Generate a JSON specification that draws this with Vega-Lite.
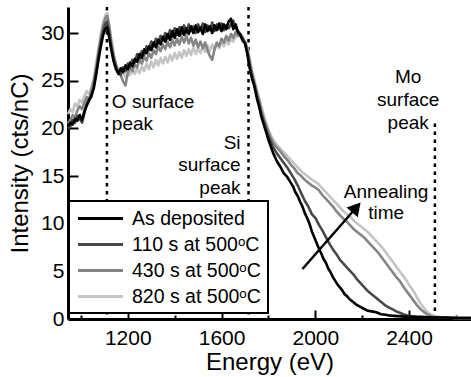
{
  "$schema": "https://vega.github.io/schema/vega-lite/v6.json",
  "width": 403,
  "height": 312,
  "autosize": {"type": "none"},
  "padding": {"left": 68, "top": 7, "right": 0, "bottom": 58},
  "background": "white",
  "config": {
    "view": {"stroke": null},
    "font": "Liberation Sans",
    "axis": {
      "domainColor": "black", "domainWidth": 3, "tickColor": "black", "tickWidth": 2,
      "labelColor": "black", "titleColor": "black", "labelFont": "Liberation Sans", "titleFont": "Liberation Sans",
      "labelFontSize": 21, "titleFontSize": 24, "titleFontWeight": "normal", "grid": false, "labelOverlap": false
    },
    "legend": {"strokeWidth": 2}
  },
  "datasets": {
    "A": [
      {"e":945,"v":20.2},{"e":955,"v":20.6},{"e":965,"v":20.4},{"e":975,"v":21.0},{"e":985,"v":20.8},{"e":995,"v":21.4},{"e":1005,"v":20.9},{"e":1015,"v":21.8},{"e":1025,"v":22.4},{"e":1035,"v":22.9},{"e":1045,"v":23.5},{"e":1055,"v":24.2},{"e":1065,"v":25.6},{"e":1075,"v":27.2},{"e":1085,"v":28.6},{"e":1095,"v":29.8},{"e":1105,"v":30.5},{"e":1112,"v":30.6},{"e":1120,"v":29.6},{"e":1130,"v":28.2},{"e":1140,"v":27.0},{"e":1150,"v":26.2},{"e":1160,"v":25.7},{"e":1170,"v":26.3},{"e":1180,"v":25.9},{"e":1190,"v":26.6},{"e":1200,"v":26.2},{"e":1210,"v":26.9},{"e":1220,"v":26.5},{"e":1230,"v":27.3},{"e":1240,"v":27.0},{"e":1250,"v":27.8},{"e":1260,"v":27.4},{"e":1270,"v":28.3},{"e":1280,"v":27.9},{"e":1290,"v":28.6},{"e":1300,"v":28.2},{"e":1310,"v":29.0},{"e":1320,"v":28.5},{"e":1330,"v":29.3},{"e":1340,"v":28.8},{"e":1350,"v":29.6},{"e":1360,"v":29.1},{"e":1370,"v":29.9},{"e":1380,"v":29.3},{"e":1390,"v":30.2},{"e":1400,"v":29.5},{"e":1410,"v":30.4},{"e":1420,"v":29.7},{"e":1430,"v":30.6},{"e":1440,"v":29.8},{"e":1450,"v":30.5},{"e":1460,"v":29.9},{"e":1470,"v":30.7},{"e":1480,"v":30.0},{"e":1490,"v":30.8},{"e":1500,"v":30.1},{"e":1510,"v":30.6},{"e":1520,"v":29.9},{"e":1530,"v":30.9},{"e":1540,"v":30.2},{"e":1550,"v":30.7},{"e":1560,"v":30.0},{"e":1570,"v":30.8},{"e":1580,"v":30.3},{"e":1590,"v":31.0},{"e":1600,"v":30.2},{"e":1610,"v":30.9},{"e":1620,"v":30.4},{"e":1630,"v":31.2},{"e":1640,"v":31.5},{"e":1650,"v":30.4},{"e":1660,"v":30.9},{"e":1670,"v":30.1},{"e":1680,"v":29.8},{"e":1690,"v":29.2},{"e":1700,"v":28.9},{"e":1710,"v":27.8},{"e":1720,"v":26.3},{"e":1730,"v":25.2},{"e":1740,"v":24.4},{"e":1750,"v":23.2},{"e":1760,"v":22.3},{"e":1770,"v":21.2},{"e":1780,"v":20.4},{"e":1790,"v":19.6},{"e":1800,"v":18.8},{"e":1810,"v":18.1},{"e":1820,"v":17.4},{"e":1835,"v":16.6},{"e":1850,"v":16.0},{"e":1865,"v":15.3},{"e":1880,"v":14.9},{"e":1895,"v":14.3},{"e":1905,"v":13.9},{"e":1915,"v":13.3},{"e":1925,"v":12.9},{"e":1935,"v":12.3},{"e":1945,"v":11.8},{"e":1955,"v":11.1},{"e":1965,"v":10.6},{"e":1975,"v":10.0},{"e":1985,"v":9.2},{"e":1995,"v":8.6},{"e":2005,"v":8.0},{"e":2015,"v":7.4},{"e":2025,"v":6.9},{"e":2035,"v":6.3},{"e":2045,"v":5.9},{"e":2055,"v":5.3},{"e":2065,"v":4.9},{"e":2075,"v":4.4},{"e":2085,"v":4.0},{"e":2095,"v":3.6},{"e":2105,"v":3.3},{"e":2115,"v":3.0},{"e":2125,"v":2.6},{"e":2135,"v":2.4},{"e":2145,"v":2.1},{"e":2160,"v":1.8},{"e":2175,"v":1.5},{"e":2190,"v":1.3},{"e":2205,"v":1.1},{"e":2220,"v":0.9},{"e":2240,"v":0.8},{"e":2260,"v":0.7},{"e":2280,"v":0.5},{"e":2300,"v":0.45},{"e":2320,"v":0.35},{"e":2350,"v":0.3},{"e":2380,"v":0.25},{"e":2420,"v":0.2},{"e":2460,"v":0.2},{"e":2500,"v":0.15},{"e":2550,"v":0.15},{"e":2600,"v":0.1},{"e":2664,"v":0.1}
    ],
    "B": [
      {"e":945,"v":20.0},{"e":955,"v":20.2},{"e":965,"v":20.9},{"e":975,"v":20.6},{"e":985,"v":21.3},{"e":995,"v":21.0},{"e":1005,"v":20.6},{"e":1015,"v":21.6},{"e":1025,"v":22.6},{"e":1035,"v":23.1},{"e":1045,"v":23.3},{"e":1055,"v":24.5},{"e":1065,"v":25.9},{"e":1075,"v":27.5},{"e":1085,"v":29.0},{"e":1095,"v":30.3},{"e":1105,"v":31.0},{"e":1112,"v":31.2},{"e":1120,"v":30.1},{"e":1130,"v":28.5},{"e":1140,"v":27.2},{"e":1150,"v":26.4},{"e":1160,"v":25.8},{"e":1170,"v":25.6},{"e":1180,"v":26.4},{"e":1190,"v":26.0},{"e":1200,"v":26.8},{"e":1210,"v":26.4},{"e":1220,"v":27.2},{"e":1230,"v":26.9},{"e":1240,"v":27.8},{"e":1250,"v":27.3},{"e":1260,"v":28.1},{"e":1270,"v":27.7},{"e":1280,"v":28.6},{"e":1290,"v":28.2},{"e":1300,"v":29.1},{"e":1310,"v":28.6},{"e":1320,"v":29.4},{"e":1330,"v":28.9},{"e":1340,"v":29.7},{"e":1350,"v":29.2},{"e":1360,"v":30.0},{"e":1370,"v":29.4},{"e":1380,"v":30.3},{"e":1390,"v":29.6},{"e":1400,"v":30.5},{"e":1410,"v":29.8},{"e":1420,"v":30.6},{"e":1430,"v":29.9},{"e":1440,"v":30.8},{"e":1450,"v":30.0},{"e":1460,"v":30.9},{"e":1470,"v":30.2},{"e":1480,"v":30.7},{"e":1490,"v":30.0},{"e":1500,"v":30.9},{"e":1510,"v":30.3},{"e":1520,"v":31.0},{"e":1530,"v":30.1},{"e":1540,"v":30.8},{"e":1550,"v":30.3},{"e":1560,"v":31.1},{"e":1570,"v":30.2},{"e":1580,"v":30.9},{"e":1590,"v":30.4},{"e":1600,"v":31.0},{"e":1610,"v":30.3},{"e":1620,"v":30.8},{"e":1630,"v":30.5},{"e":1640,"v":30.9},{"e":1650,"v":31.3},{"e":1660,"v":30.5},{"e":1670,"v":30.2},{"e":1680,"v":29.9},{"e":1690,"v":29.4},{"e":1700,"v":29.0},{"e":1710,"v":28.0},{"e":1720,"v":26.6},{"e":1730,"v":25.5},{"e":1740,"v":24.6},{"e":1750,"v":23.5},{"e":1760,"v":22.6},{"e":1770,"v":21.5},{"e":1780,"v":20.7},{"e":1790,"v":19.9},{"e":1800,"v":19.2},{"e":1810,"v":18.6},{"e":1820,"v":18.0},{"e":1835,"v":17.4},{"e":1850,"v":16.9},{"e":1865,"v":16.4},{"e":1880,"v":15.9},{"e":1895,"v":15.3},{"e":1910,"v":14.7},{"e":1925,"v":14.0},{"e":1940,"v":13.2},{"e":1955,"v":12.4},{"e":1970,"v":11.8},{"e":1985,"v":11.0},{"e":2000,"v":10.6},{"e":2015,"v":9.9},{"e":2030,"v":9.3},{"e":2045,"v":8.6},{"e":2060,"v":7.9},{"e":2075,"v":7.3},{"e":2090,"v":6.8},{"e":2105,"v":6.2},{"e":2120,"v":5.8},{"e":2135,"v":5.4},{"e":2150,"v":5.0},{"e":2165,"v":4.6},{"e":2180,"v":4.1},{"e":2195,"v":3.7},{"e":2210,"v":3.3},{"e":2225,"v":2.9},{"e":2240,"v":2.6},{"e":2255,"v":2.3},{"e":2270,"v":2.0},{"e":2285,"v":1.7},{"e":2300,"v":1.4},{"e":2315,"v":1.2},{"e":2330,"v":1.0},{"e":2345,"v":0.8},{"e":2360,"v":0.65},{"e":2375,"v":0.5},{"e":2390,"v":0.4},{"e":2410,"v":0.3},{"e":2430,"v":0.25},{"e":2460,"v":0.2},{"e":2500,"v":0.15},{"e":2550,"v":0.15},{"e":2600,"v":0.1},{"e":2664,"v":0.1}
    ],
    "C": [
      {"e":945,"v":20.5},{"e":955,"v":20.9},{"e":965,"v":21.4},{"e":975,"v":21.1},{"e":985,"v":21.9},{"e":995,"v":22.3},{"e":1005,"v":22.0},{"e":1015,"v":22.7},{"e":1025,"v":23.3},{"e":1035,"v":23.0},{"e":1045,"v":24.0},{"e":1055,"v":24.9},{"e":1065,"v":26.4},{"e":1075,"v":28.0},{"e":1085,"v":29.5},{"e":1095,"v":30.8},{"e":1105,"v":31.6},{"e":1112,"v":31.8},{"e":1120,"v":30.8},{"e":1130,"v":29.0},{"e":1140,"v":27.6},{"e":1150,"v":26.6},{"e":1160,"v":26.0},{"e":1170,"v":25.6},{"e":1180,"v":24.9},{"e":1190,"v":24.5},{"e":1200,"v":25.8},{"e":1210,"v":26.3},{"e":1220,"v":26.0},{"e":1230,"v":26.7},{"e":1240,"v":26.4},{"e":1250,"v":27.2},{"e":1260,"v":26.8},{"e":1270,"v":27.5},{"e":1280,"v":27.1},{"e":1290,"v":27.9},{"e":1300,"v":27.4},{"e":1310,"v":28.2},{"e":1320,"v":27.8},{"e":1330,"v":28.6},{"e":1340,"v":28.1},{"e":1350,"v":28.8},{"e":1360,"v":28.3},{"e":1370,"v":29.1},{"e":1380,"v":28.5},{"e":1390,"v":29.3},{"e":1400,"v":28.7},{"e":1410,"v":29.4},{"e":1420,"v":28.8},{"e":1430,"v":29.6},{"e":1440,"v":29.0},{"e":1450,"v":29.7},{"e":1460,"v":28.9},{"e":1470,"v":29.5},{"e":1480,"v":28.7},{"e":1490,"v":29.3},{"e":1500,"v":28.5},{"e":1510,"v":29.1},{"e":1520,"v":28.4},{"e":1530,"v":29.0},{"e":1540,"v":28.2},{"e":1550,"v":27.6},{"e":1560,"v":27.2},{"e":1570,"v":28.3},{"e":1580,"v":29.0},{"e":1590,"v":28.6},{"e":1600,"v":29.4},{"e":1610,"v":29.0},{"e":1620,"v":29.7},{"e":1630,"v":29.2},{"e":1640,"v":29.9},{"e":1650,"v":29.5},{"e":1660,"v":30.1},{"e":1670,"v":29.7},{"e":1680,"v":29.9},{"e":1690,"v":29.5},{"e":1700,"v":29.0},{"e":1710,"v":28.3},{"e":1720,"v":27.0},{"e":1730,"v":25.8},{"e":1740,"v":24.8},{"e":1750,"v":23.8},{"e":1760,"v":22.9},{"e":1770,"v":21.9},{"e":1780,"v":21.0},{"e":1790,"v":20.3},{"e":1800,"v":19.6},{"e":1810,"v":19.0},{"e":1820,"v":18.5},{"e":1835,"v":18.0},{"e":1850,"v":17.6},{"e":1865,"v":17.1},{"e":1880,"v":16.7},{"e":1895,"v":16.2},{"e":1910,"v":15.8},{"e":1925,"v":15.3},{"e":1940,"v":15.0},{"e":1955,"v":14.6},{"e":1970,"v":14.3},{"e":1985,"v":14.0},{"e":2000,"v":13.8},{"e":2015,"v":13.5},{"e":2030,"v":13.0},{"e":2045,"v":12.6},{"e":2060,"v":12.2},{"e":2075,"v":11.8},{"e":2090,"v":11.3},{"e":2105,"v":10.9},{"e":2120,"v":10.5},{"e":2135,"v":10.2},{"e":2150,"v":9.8},{"e":2165,"v":9.4},{"e":2180,"v":9.1},{"e":2195,"v":8.8},{"e":2210,"v":8.5},{"e":2225,"v":8.1},{"e":2240,"v":7.7},{"e":2255,"v":7.3},{"e":2270,"v":6.9},{"e":2285,"v":6.4},{"e":2300,"v":5.9},{"e":2315,"v":5.4},{"e":2330,"v":4.9},{"e":2345,"v":4.4},{"e":2360,"v":4.0},{"e":2375,"v":3.4},{"e":2390,"v":2.9},{"e":2405,"v":2.4},{"e":2420,"v":1.9},{"e":2435,"v":1.4},{"e":2450,"v":1.0},{"e":2465,"v":0.7},{"e":2480,"v":0.45},{"e":2495,"v":0.3},{"e":2510,"v":0.2},{"e":2550,"v":0.15},{"e":2600,"v":0.1},{"e":2664,"v":0.1}
    ],
    "D": [
      {"e":945,"v":21.5},{"e":955,"v":22.0},{"e":965,"v":21.7},{"e":975,"v":22.6},{"e":985,"v":22.3},{"e":995,"v":23.0},{"e":1005,"v":22.7},{"e":1015,"v":23.4},{"e":1025,"v":23.9},{"e":1035,"v":23.6},{"e":1045,"v":24.4},{"e":1055,"v":25.3},{"e":1065,"v":26.8},{"e":1075,"v":28.4},{"e":1085,"v":29.9},{"e":1095,"v":31.1},{"e":1105,"v":31.9},{"e":1112,"v":32.1},{"e":1120,"v":31.0},{"e":1130,"v":29.3},{"e":1140,"v":27.8},{"e":1150,"v":26.8},{"e":1160,"v":26.1},{"e":1170,"v":25.7},{"e":1180,"v":25.9},{"e":1190,"v":25.4},{"e":1200,"v":26.0},{"e":1210,"v":25.6},{"e":1220,"v":26.1},{"e":1230,"v":25.7},{"e":1240,"v":26.3},{"e":1250,"v":25.8},{"e":1260,"v":26.5},{"e":1270,"v":26.0},{"e":1280,"v":26.8},{"e":1290,"v":26.2},{"e":1300,"v":27.0},{"e":1310,"v":26.4},{"e":1320,"v":27.2},{"e":1330,"v":26.6},{"e":1340,"v":27.4},{"e":1350,"v":26.8},{"e":1360,"v":27.5},{"e":1370,"v":26.9},{"e":1380,"v":27.7},{"e":1390,"v":27.1},{"e":1400,"v":27.9},{"e":1410,"v":27.3},{"e":1420,"v":28.0},{"e":1430,"v":27.4},{"e":1440,"v":28.2},{"e":1450,"v":27.6},{"e":1460,"v":28.3},{"e":1470,"v":27.7},{"e":1480,"v":28.5},{"e":1490,"v":27.8},{"e":1500,"v":28.4},{"e":1510,"v":27.9},{"e":1520,"v":28.6},{"e":1530,"v":28.0},{"e":1540,"v":28.7},{"e":1550,"v":28.1},{"e":1560,"v":28.8},{"e":1570,"v":28.2},{"e":1580,"v":28.9},{"e":1590,"v":28.4},{"e":1600,"v":29.1},{"e":1610,"v":28.6},{"e":1620,"v":29.2},{"e":1630,"v":28.8},{"e":1640,"v":29.4},{"e":1650,"v":29.1},{"e":1660,"v":29.6},{"e":1670,"v":29.8},{"e":1680,"v":29.7},{"e":1690,"v":29.6},{"e":1700,"v":29.2},{"e":1710,"v":28.6},{"e":1720,"v":27.3},{"e":1730,"v":26.1},{"e":1740,"v":25.1},{"e":1750,"v":24.1},{"e":1760,"v":23.2},{"e":1770,"v":22.3},{"e":1780,"v":21.4},{"e":1790,"v":20.6},{"e":1800,"v":19.9},{"e":1810,"v":19.3},{"e":1820,"v":18.8},{"e":1835,"v":18.3},{"e":1850,"v":17.9},{"e":1865,"v":17.5},{"e":1880,"v":17.1},{"e":1895,"v":16.7},{"e":1910,"v":16.3},{"e":1925,"v":15.9},{"e":1940,"v":15.5},{"e":1955,"v":15.2},{"e":1970,"v":14.9},{"e":1985,"v":14.6},{"e":2000,"v":14.4},{"e":2015,"v":14.1},{"e":2030,"v":13.7},{"e":2045,"v":13.3},{"e":2060,"v":12.9},{"e":2075,"v":12.5},{"e":2090,"v":12.1},{"e":2105,"v":11.7},{"e":2120,"v":11.3},{"e":2135,"v":11.0},{"e":2150,"v":10.7},{"e":2165,"v":10.3},{"e":2180,"v":10.0},{"e":2195,"v":9.7},{"e":2210,"v":9.4},{"e":2225,"v":9.1},{"e":2240,"v":8.7},{"e":2255,"v":8.3},{"e":2270,"v":7.9},{"e":2285,"v":7.5},{"e":2300,"v":7.0},{"e":2315,"v":6.5},{"e":2330,"v":6.0},{"e":2345,"v":5.5},{"e":2360,"v":5.0},{"e":2375,"v":4.5},{"e":2390,"v":4.0},{"e":2405,"v":3.4},{"e":2420,"v":2.9},{"e":2435,"v":2.2},{"e":2450,"v":1.6},{"e":2465,"v":1.1},{"e":2480,"v":0.7},{"e":2495,"v":0.45},{"e":2510,"v":0.3},{"e":2530,"v":0.2},{"e":2560,"v":0.15},{"e":2600,"v":0.12},{"e":2664,"v":0.1}
    ],
    "vlines": [{"e":1111},{"e":1715}],
    "mo": [{"e":2510,"v":0,"v2":20.7}],
    "arrow": [{"e":1945,"v":5.24,"e2":2175,"v2":11.7}],
    "head": [{"e":2175,"v":11.7}],
    "tl": [{"e":1132,"v":22.8,"t":"O surface"},{"e":1132,"v":20.5,"t":"peak"}],
    "tr": [{"e":1681,"v":18.5,"t":"Si"},{"e":1681,"v":16.15,"t":"surface"},{"e":1681,"v":13.7,"t":"peak"}],
    "tc": [{"e":2396,"v":25.4,"t":"Mo"},{"e":2396,"v":23.0,"t":"surface"},{"e":2396,"v":20.6,"t":"peak"},{"e":2302,"v":13.3,"t":"Annealing"},{"e":2302,"v":11.1,"t":"time"}]
  },
  "layer": [
    {
      "data": {"name": "vlines"},
      "mark": {"type": "rule", "color": "black", "strokeWidth": 2.5, "strokeDash": [3.5, 4.5]},
      "encoding": {
        "x": {"field": "e", "type": "quantitative", "scale": {"domain": [945, 2664], "nice": false, "zero": false},
          "title": "Energy (eV)",
          "axis": {"values": [1000,1200,1400,1600,1800,2000,2200,2400,2600], "format": "d",
            "labelExpr": "datum.value % 400 === 0 ? datum.label : ''",
            "tickSize": {"condition": {"test": "datum.value % 400 === 0", "value": -9}, "value": -4},
            "labelPadding": 17, "titlePadding": -3}}
      }
    },
    {
      "data": {"name": "mo"},
      "mark": {"type": "rule", "color": "black", "strokeWidth": 2.5, "strokeDash": [3.5, 4.5]},
      "encoding": {
        "x": {"field": "e", "type": "quantitative"},
        "y": {"field": "v", "type": "quantitative", "scale": {"domain": [0, 32.73], "nice": false},
          "title": "Intensity (cts/nC)",
          "axis": {"values": [0,2.5,5,7.5,10,12.5,15,17.5,20,22.5,25,27.5,30,32.5],
            "labelExpr": "datum.value % 5 === 0 ? datum.label : ''",
            "tickSize": {"condition": {"test": "datum.value % 5 === 0", "value": -10}, "value": -5},
            "labelPadding": 14, "titlePadding": 8}},
        "y2": {"field": "v2"}
      }
    },
    {
      "data": {"name": "D"},
      "mark": {"type": "line", "strokeWidth": 2.6, "strokeJoin": "round"},
      "encoding": {
        "x": {"field": "e", "type": "quantitative"},
        "y": {"field": "v", "type": "quantitative"},
        "color": {"datum": "820 s at 500ᵒC", "type": "nominal",
          "scale": {"domain": ["As deposited", "110 s at 500ᵒC", "430 s at 500ᵒC", "820 s at 500ᵒC"], "range": ["#000000", "#484848", "#858585", "#c4c4c4"]},
          "legend": {"title": null, "orient": "none", "legendX": 1, "legendY": 194, "padding": 7,
            "fillColor": "white", "strokeColor": "black",
            "labelFontSize": 19.5, "labelFont": "Liberation Sans", "labelColor": "black",
            "symbolType": "M-2.5,0H2.5", "symbolSize": 324, "symbolStrokeWidth": 3,
            "symbolOffset": 14, "labelOffset": 21, "rowPadding": 6}}
      }
    },
    {
      "data": {"name": "C"},
      "mark": {"type": "line", "strokeWidth": 2.6, "strokeJoin": "round"},
      "encoding": {
        "x": {"field": "e", "type": "quantitative"},
        "y": {"field": "v", "type": "quantitative"},
        "color": {"datum": "430 s at 500ᵒC", "type": "nominal"}
      }
    },
    {
      "data": {"name": "B"},
      "mark": {"type": "line", "strokeWidth": 2.6, "strokeJoin": "round"},
      "encoding": {
        "x": {"field": "e", "type": "quantitative"},
        "y": {"field": "v", "type": "quantitative"},
        "color": {"datum": "110 s at 500ᵒC", "type": "nominal"}
      }
    },
    {
      "data": {"name": "A"},
      "mark": {"type": "line", "strokeWidth": 2.6, "strokeJoin": "round"},
      "encoding": {
        "x": {"field": "e", "type": "quantitative"},
        "y": {"field": "v", "type": "quantitative"},
        "color": {"datum": "As deposited", "type": "nominal"}
      }
    },
    {
      "data": {"name": "arrow"},
      "mark": {"type": "rule", "color": "black", "strokeWidth": 2.5},
      "encoding": {
        "x": {"field": "e", "type": "quantitative"},
        "y": {"field": "v", "type": "quantitative"},
        "x2": {"field": "e2"},
        "y2": {"field": "v2"}
      }
    },
    {
      "data": {"name": "head"},
      "mark": {"type": "point", "shape": "triangle-up", "size": 220, "angle": 41, "filled": true, "color": "black", "opacity": 1},
      "encoding": {
        "x": {"field": "e", "type": "quantitative"},
        "y": {"field": "v", "type": "quantitative"}
      }
    },
    {
      "data": {"name": "tl"},
      "mark": {"type": "text", "align": "left", "baseline": "middle", "fontSize": 19, "font": "Liberation Sans", "color": "black"},
      "encoding": {
        "x": {"field": "e", "type": "quantitative"},
        "y": {"field": "v", "type": "quantitative"},
        "text": {"field": "t"}
      }
    },
    {
      "data": {"name": "tr"},
      "mark": {"type": "text", "align": "right", "baseline": "middle", "fontSize": 19, "font": "Liberation Sans", "color": "black"},
      "encoding": {
        "x": {"field": "e", "type": "quantitative"},
        "y": {"field": "v", "type": "quantitative"},
        "text": {"field": "t"}
      }
    },
    {
      "data": {"name": "tc"},
      "mark": {"type": "text", "align": "center", "baseline": "middle", "fontSize": 19, "font": "Liberation Sans", "color": "black"},
      "encoding": {
        "x": {"field": "e", "type": "quantitative"},
        "y": {"field": "v", "type": "quantitative"},
        "text": {"field": "t"}
      }
    },
    {
      "mark": {"type": "rule", "color": "black", "strokeWidth": 3},
      "encoding": {"y": {"datum": 32.73, "type": "quantitative"}}
    }
  ]
}
